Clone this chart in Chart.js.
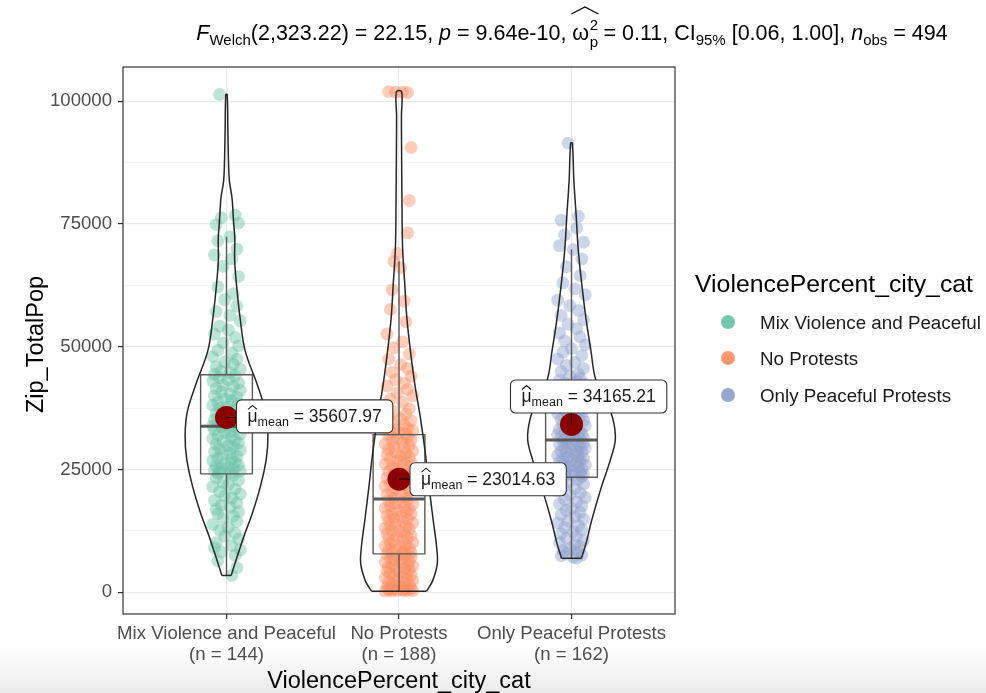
<!DOCTYPE html>
<html>
<head>
<meta charset="utf-8">
<script src="https://cdn.jsdelivr.net/npm/chart.js@4.4.1/dist/chart.umd.min.js"></script>
<style>
  html, body { margin: 0; padding: 0; background: #ffffff; }
  #wrap { position: relative; width: 986px; height: 693px; background: linear-gradient(to bottom, #ffffff 0px, #ffffff 648px, #f4f4f4 672px, #ebebeb 693px); }
  canvas { display: block; }
</style>
</head>
<body>
<div id="wrap"><canvas id="c" width="986" height="693"></canvas></div>
<script>
// ---- data -------------------------------------------------------------
const categories = ['Mix Violence and Peaceful', 'No Protests', 'Only Peaceful Protests'];
const groupCounts = [144, 188, 162];
const groupColors = ['#66C2A5', '#FC8D62', '#8DA0CB'];
const yTicks = [0, 25000, 50000, 75000, 100000];
const yMinorTicks = [12500, 37500, 62500, 87500];
const groupMeans = [35607.97, 23014.63, 34165.21];

// box statistics: [lower whisker, Q1, median, Q3, upper whisker]
const boxMix = [3400, 24100, 33800, 44300, 72400];
const boxNone = [200, 7800, 19000, 32100, 67400];
const boxPeaceful = [6900, 23400, 31000, 42000, 69800];

// violin profiles: [value, half width in category units]
const violinMix = [[3400,0.027],[6500,0.055],[11300,0.10],[16100,0.15],[21600,0.197],[27200,0.231],[32000,0.24],[36800,0.227],[42300,0.178],[49200,0.108],[56100,0.078],[63000,0.057],[67900,0.047],[72000,0.048],[75500,0.041],[80300,0.032],[83700,0.017],[87200,0.012],[94100,0.008],[101400,0.004]];
const violinNone = [[200,0.16],[2300,0.195],[5800,0.222],[9200,0.218],[14700,0.198],[21600,0.174],[28500,0.152],[35500,0.124],[42300,0.092],[49200,0.066],[56100,0.045],[63000,0.033],[70000,0.021],[80000,0.017],[90000,0.015],[97000,0.014],[102000,0.015]];
const violinPeaceful = [[6900,0.058],[10300,0.087],[14500,0.116],[21400,0.173],[26900,0.225],[31100,0.254],[35300,0.24],[39000,0.2],[43500,0.139],[49100,0.113],[56000,0.083],[62900,0.059],[69800,0.039],[76800,0.027],[83700,0.014],[91500,0.005]];

// jittered observations: [horizontal jitter, Zip_TotalPop]
const pointsMix = [
[-0.04,101400],[0.05,76800],[-0.03,76300],[0.07,75200],[-0.06,74900],[0.02,72400],[-0.05,71600],[0.06,69900],[-0.07,68700],[0.03,67900],[-0.02,66400],[0.07,64300],[-0.05,62200],[0.04,60800],[-0.01,59600],[0.06,58300],[-0.06,57200],[0.02,56400],[0.08,55300],[-0.04,54200],[0.01,53400],[-0.07,52600],[0.05,51900],[-0.02,50800],[0.07,50200],[-0.05,49300],[0.03,48700],[-0.08,48000],[0.06,47500],[-0.01,46900],[0.04,46400],[-0.06,45900],[0.08,45400],[-0.03,45000],[0.02,44700],[-0.07,44400],
[0.05,44100],[-0.04,43700],[0.01,43300],[-0.08,43000],[0.07,42600],[-0.02,42200],[0.04,41900],[-0.06,41500],[0.08,41100],[-0.03,40800],[0.02,40400],[-0.07,40000],[0.06,39700],[-0.01,39400],[0.03,39000],[-0.05,38700],[0.07,38400],[-0.08,38100],[0.01,37800],[-0.04,37500],[0.05,37200],[-0.02,36900],[0.08,36600],[-0.06,36300],[0.03,36000],[-0.03,35700],[0.06,35400],[-0.07,35100],[0.00,34900],[0.04,34700],[-0.05,34500],[0.07,34300],[-0.01,34200],[0.02,34000],[-0.08,33900],[0.05,33850],
[-0.03,33700],[0.06,33400],[-0.07,33100],[0.02,32800],[-0.01,32500],[0.08,32200],[-0.05,31900],[0.03,31600],[-0.08,31300],[0.05,31000],[-0.02,30700],[0.07,30400],[-0.06,30100],[0.01,29800],[0.04,29500],[-0.04,29200],[0.08,28900],[-0.07,28600],[0.02,28300],[-0.02,28000],[0.06,27700],[-0.05,27400],[0.03,27100],[-0.08,26800],[0.05,26500],[-0.01,26200],[0.07,25900],[-0.06,25700],[0.01,25500],[-0.03,25300],[0.04,25100],[-0.07,24900],[0.08,24700],[-0.04,24500],[0.02,24300],[-0.05,24200],
[0.04,23800],[-0.06,23300],[0.07,22800],[-0.02,22300],[0.01,21900],[-0.08,21500],[0.05,21000],[-0.04,20500],[0.08,20000],[-0.01,19600],[0.03,19200],[-0.07,18700],[0.06,18200],[-0.03,17700],[0.02,17300],[-0.06,16900],[0.07,16400],[-0.05,16000],[0.04,15500],[-0.02,15000],[0.06,14400],[-0.08,13800],[0.01,13200],[-0.04,12600],[0.05,12000],[-0.01,11400],[0.07,10800],[-0.06,10100],[0.03,9500],[-0.07,9000],[0.08,8600],[-0.03,8200],[0.05,7500],[-0.05,6400],[0.06,5000],[0.03,3400]
];
const pointsNone = [
[-0.06,102000],[-0.02,101900],[0.02,101900],[0.05,101800],[0.07,90600],[0.06,79800],[0.05,73200],[-0.01,69000],[-0.03,67400],[0.01,66100],[-0.04,61600],[0.03,59300],[-0.05,57600],[0.04,55100],[-0.07,52600],[0.02,51000],[-0.03,49800],[0.06,48500],[-0.06,47500],[0.01,46400],[0.05,45600],[-0.04,44800],[0.07,44000],[-0.02,43300],[0.03,42600],[-0.07,42000],[0.05,41300],[-0.01,40600],[0.08,40000],[-0.05,39300],[0.02,38700],[-0.08,38000],[0.06,37400],[-0.03,36800],[0.04,36300],[-0.06,35800],[0.01,35300],[0.07,34900],[-0.04,34500],[0.03,34100],[-0.07,33700],[0.05,33400],[-0.02,33100],[0.08,32900],[-0.05,32700],[0.00,32500],[0.04,32300],
[-0.06,31900],[0.05,31600],[-0.01,31300],[0.07,31000],[-0.04,30800],[0.02,30500],[-0.08,30200],[0.06,29900],[-0.03,29600],[0.03,29400],[-0.06,29100],[0.08,28800],[-0.02,28500],[0.04,28300],[-0.07,28000],[0.01,27700],[0.06,27500],[-0.05,27200],[0.03,26900],[-0.01,26700],[0.07,26400],[-0.08,26100],[0.02,25900],[-0.04,25600],[0.05,25400],[-0.02,25100],[0.08,24800],[-0.06,24600],[0.01,24300],[0.04,24100],[-0.03,23800],[0.06,23500],[-0.07,23300],[0.02,23000],[-0.01,22700],[0.07,22400],[-0.05,22100],[0.03,21900],[-0.08,21600],[0.05,21300],[-0.02,21000],[0.06,20700],[-0.04,20400],[0.01,20100],[-0.07,19800],[0.04,19500],[-0.03,19200],
[0.05,18900],[-0.06,18600],[0.02,18400],[-0.02,18100],[0.08,17900],[-0.05,17600],[0.03,17400],[-0.08,17100],[0.06,16900],[-0.01,16600],[0.04,16400],[-0.04,16100],[0.07,15900],[-0.07,15600],[0.01,15400],[-0.03,15100],[0.05,14900],[-0.06,14600],[0.02,14400],[0.08,14100],[-0.02,13900],[-0.05,13600],[0.04,13400],[-0.08,13100],[0.06,12900],[0.00,12600],[-0.04,12400],[0.03,12100],[-0.07,11900],[0.07,11600],[-0.01,11400],[0.05,11100],[-0.06,10900],[0.02,10600],[-0.03,10400],[0.08,10100],[-0.05,9900],[0.04,9600],[-0.08,9400],[0.01,9200],[0.06,8900],[-0.02,8700],[-0.06,8500],[0.03,8300],[0.07,8100],[-0.04,8000],[0.02,7900],
[-0.07,7700],[0.04,7500],[-0.01,7300],[0.07,7100],[-0.05,6900],[0.02,6700],[-0.03,6500],[0.06,6300],[-0.08,6100],[0.01,5900],[0.05,5700],[-0.04,5500],[0.08,5300],[-0.06,5100],[0.03,4900],[-0.02,4700],[0.06,4500],[-0.07,4300],[0.00,4100],[0.04,3900],[-0.05,3700],[0.07,3500],[-0.03,3300],[0.02,3100],[-0.08,2900],[0.05,2700],[-0.01,2500],[0.08,2300],[-0.06,2100],[0.03,1900],[-0.04,1700],[0.06,1500],[-0.02,1300],[0.01,1200],[-0.07,1000],[0.04,900],[-0.05,800],[0.07,700],[-0.03,600],[0.02,500],[-0.06,450],[0.05,400],[-0.01,350],[0.08,300],[-0.04,250],[0.03,220],[-0.08,200]
];
const pointsPeaceful = [
[-0.02,91500],[0.04,76600],[-0.06,75800],[0.03,74200],[-0.04,72800],[0.07,71300],[-0.07,70600],[0.01,69800],[0.06,67900],[-0.03,66300],[0.05,64500],[-0.05,63000],[0.02,61800],[0.08,60600],[-0.08,59500],[-0.01,58400],[0.04,57400],[-0.06,56400],[0.07,55500],[-0.02,54600],[0.03,53700],[-0.07,52800],[0.05,52000],[-0.04,51200],[0.08,50400],[0.00,49600],[-0.05,48900],[0.06,48200],[-0.08,47500],[0.02,46800],[-0.03,46200],[0.07,45600],[-0.06,45000],[0.04,44500],[-0.01,44000],[0.05,43600],[-0.07,43200],[0.03,42900],[-0.04,42600],[0.08,42400],[-0.02,42200],
[0.06,41800],[-0.05,41400],[0.01,41000],[-0.08,40600],[0.04,40200],[-0.02,39900],[0.07,39500],[-0.06,39200],[0.03,38800],[-0.03,38500],[0.08,38200],[-0.07,37900],[0.00,37600],[0.05,37300],[-0.04,37000],[0.02,36700],[-0.08,36400],[0.06,36100],[-0.01,35800],[0.04,35500],[-0.06,35200],[0.07,35000],[-0.03,34700],[0.02,34400],[-0.05,34200],[0.08,33900],[-0.02,33700],[0.03,33400],[-0.07,33200],[0.05,32900],[-0.04,32700],[0.01,32500],[0.06,32300],[-0.08,32100],[-0.01,31900],[0.04,31700],[-0.06,31600],[0.07,31400],[-0.03,31200],[0.02,31100],
[-0.05,30900],[0.03,30700],[-0.02,30500],[0.07,30300],[-0.07,30100],[0.01,29900],[0.05,29700],[-0.04,29500],[0.08,29300],[-0.01,29100],[0.03,28900],[-0.06,28700],[0.06,28500],[-0.03,28300],[0.02,28100],[-0.08,27900],[0.04,27700],[-0.02,27500],[0.07,27300],[-0.05,27100],[0.00,26900],[0.05,26700],[-0.07,26500],[0.03,26300],[-0.04,26100],[0.08,25900],[-0.01,25700],[0.04,25500],[-0.06,25300],[0.06,25100],[-0.03,24900],[0.01,24700],[-0.08,24500],[0.05,24300],[-0.02,24100],[0.07,24000],[-0.05,23800],[0.02,23700],[-0.04,23600],[0.06,23500],
[-0.06,23300],[0.04,22900],[-0.02,22400],[0.07,22000],[-0.05,21500],[0.02,21100],[-0.08,20600],[0.05,20200],[-0.01,19800],[0.08,19300],[-0.04,18900],[0.03,18400],[-0.07,18000],[0.06,17600],[0.00,17100],[-0.03,16700],[0.05,16200],[-0.06,15800],[0.02,15400],[0.07,14900],[-0.02,14500],[-0.08,14100],[0.04,13600],[-0.04,13200],[0.06,12700],[0.01,12300],[-0.06,11900],[0.03,11400],[-0.03,11000],[0.07,10500],[-0.07,10100],[0.02,9700],[0.05,9300],[-0.01,8900],[-0.05,8500],[0.04,8200],[-0.03,7900],[0.06,7600],[-0.06,7400],[0.01,7100],[0.03,6900]
];

// ---- styling ------------------------------------------------------------
const FONT = "'Liberation Sans', Arial, Helvetica, sans-serif";
const AXIS_TEXT = '#4d4d4d';
const OUTLINE = '#262626';
const BOX_LINE = '#595959';
const MEAN_COLOR = '#8B0000';
const BOX_HALF = 0.15;

function rgba(hex, a) {
  const n = parseInt(hex.slice(1), 16);
  return `rgba(${(n >> 16) & 255},${(n >> 8) & 255},${n & 255},${a})`;
}

const boxes = [boxMix, boxNone, boxPeaceful];
const violins = [violinMix, violinNone, violinPeaceful];
const pointSets = [pointsMix, pointsNone, pointsPeaceful];

const datasets = [];

// jittered raw points (bottom layer)
pointSets.forEach((pts, i) => {
  datasets.push({
    type: 'scatter',
    data: pts.map(([dx, y]) => ({ x: i + 1 + dx, y })),
    backgroundColor: rgba(groupColors[i], 0.44),
    borderWidth: 0,
    pointRadius: 6.4,
    pointHoverRadius: 6.4,
    order: 4
  });
});

// box plots
boxes.forEach(([lo, q1, med, q3, hi], i) => {
  const c = i + 1;
  const line = { type: 'scatter', showLine: true, pointRadius: 0, fill: false, tension: 0, borderColor: BOX_LINE, borderWidth: 1.4, order: 3 };
  datasets.push(Object.assign({}, line, {
    data: [{ x: c, y: q3 }, { x: c, y: hi }, { x: c, y: null }, { x: c, y: q1 }, { x: c, y: lo }]
  }));
  datasets.push(Object.assign({}, line, {
    data: [{ x: c - BOX_HALF, y: q1 }, { x: c + BOX_HALF, y: q1 }, { x: c + BOX_HALF, y: q3 }, { x: c - BOX_HALF, y: q3 }, { x: c - BOX_HALF, y: q1 }]
  }));
  datasets.push(Object.assign({}, line, {
    borderWidth: 3,
    data: [{ x: c - BOX_HALF, y: med }, { x: c + BOX_HALF, y: med }]
  }));
});

// violin outlines
violins.forEach((profile, i) => {
  const c = i + 1;
  const left = profile.map(([v, w]) => ({ x: c - w, y: v }));
  const right = profile.slice().reverse().map(([v, w]) => ({ x: c + w, y: v }));
  datasets.push({
    type: 'scatter', showLine: true, pointRadius: 0, fill: false,
    tension: 0.35, borderColor: OUTLINE, borderWidth: 1.5, order: 2,
    data: left.concat(right)
  });
  const [v0, w0] = profile[0];
  datasets.push({
    type: 'scatter', showLine: true, pointRadius: 0, fill: false,
    tension: 0, borderColor: OUTLINE, borderWidth: 1.5, order: 2,
    data: [{ x: c - w0, y: v0 }, { x: c + w0, y: v0 }]
  });
});

// group means (top layer)
datasets.push({
  type: 'scatter',
  data: groupMeans.map((m, i) => ({ x: i + 1, y: m })),
  backgroundColor: MEAN_COLOR,
  borderWidth: 0,
  pointRadius: 11.5,
  pointHoverRadius: 11.5,
  order: 0
});

// ---- label placement for the mean annotations (pixel offsets) -----------
const meanLabelPlacement = [
  { left: 10, cy: -1 },
  { left: 11, cy: 0 },
  { left: -61, cy: -28 }
];

function roundRect(ctx, x, y, w, h, r) {
  ctx.beginPath();
  ctx.moveTo(x + r, y);
  ctx.lineTo(x + w - r, y);
  ctx.arcTo(x + w, y, x + w, y + r, r);
  ctx.lineTo(x + w, y + h - r);
  ctx.arcTo(x + w, y + h, x + w - r, y + h, r);
  ctx.lineTo(x + r, y + h);
  ctx.arcTo(x, y + h, x, y + h - r, r);
  ctx.lineTo(x, y + r);
  ctx.arcTo(x, y, x + r, y, r);
  ctx.closePath();
}

const decorations = {
  id: 'decorations',
  afterDraw(chart) {
    const ctx = chart.ctx;
    const area = chart.chartArea;
    const xs = chart.scales.x, ys = chart.scales.y;
    ctx.save();

    // panel border
    ctx.strokeStyle = '#333333';
    ctx.lineWidth = 1.2;
    ctx.strokeRect(area.left, area.top, area.right - area.left, area.bottom - area.top);

    // mean labels
    groupMeans.forEach((m, i) => {
      const px = xs.getPixelForValue(i + 1);
      const py = ys.getPixelForValue(m);
      const pl = meanLabelPlacement[i];
      const fs = 17.5, fsSub = 12.5;
      ctx.font = `${fs}px ${FONT}`;
      const muW = ctx.measureText('\u03BC').width;
      const rest = ' = ' + m.toFixed(2);
      const restW = ctx.measureText(rest).width;
      ctx.font = `${fsSub}px ${FONT}`;
      const subW = ctx.measureText('mean').width;
      const padX = 11;
      const w = padX * 2 + muW + subW + restW;
      const h = 33;
      const bx = px + pl.left, by = py + pl.cy - h / 2;

      // leader
      ctx.strokeStyle = '#000';
      ctx.lineWidth = 1;
      ctx.beginPath();
      ctx.moveTo(px, py);
      if (Math.abs(pl.cy) < 5) ctx.lineTo(bx, py);
      else ctx.lineTo(px, by + h);
      ctx.stroke();

      roundRect(ctx, bx, by, w, h, 5);
      ctx.fillStyle = '#ffffff';
      ctx.fill();
      ctx.strokeStyle = '#333333';
      ctx.lineWidth = 1.1;
      ctx.stroke();

      const base = by + h / 2 + 6;
      let tx = bx + padX;
      ctx.fillStyle = '#1a1a1a';
      ctx.textBaseline = 'alphabetic';
      ctx.textAlign = 'left';
      ctx.font = `${fs}px ${FONT}`;
      ctx.fillText('\u03BC', tx, base);
      // hat over mu
      ctx.strokeStyle = '#1a1a1a';
      ctx.lineWidth = 1.1;
      ctx.beginPath();
      ctx.moveTo(tx + 0.5, base - 13);
      ctx.lineTo(tx + muW / 2, base - 17);
      ctx.lineTo(tx + muW - 0.5, base - 13);
      ctx.stroke();
      tx += muW;
      ctx.font = `${fsSub}px ${FONT}`;
      ctx.fillText('mean', tx, base + 4);
      tx += subW;
      ctx.font = `${fs}px ${FONT}`;
      ctx.fillText(rest, tx, base);
    });

    // statistical subtitle
    const S = 21.5, Ssub = 15;
    const runs = [
      { t: 'F', it: true }, { t: 'Welch', sub: true }, { t: '(2,323.22) = 22.15, ' },
      { t: 'p', it: true }, { t: ' = 9.64e-10, ' }, { omega: true },
      { t: ' = 0.11, CI' }, { t: '95%', sub: true }, { t: ' [0.06, 1.00], ' },
      { t: 'n', it: true }, { t: 'obs', sub: true }, { t: ' = 494' }
    ];
    const fontFor = r => `${r.it ? 'italic ' : ''}${r.sub ? Ssub : S}px ${FONT}`;
    let total = 0;
    runs.forEach(r => {
      if (r.omega) {
        ctx.font = `${S}px ${FONT}`;
        const ow = ctx.measureText('\u03C9').width;
        ctx.font = `${Ssub}px ${FONT}`;
        r.w = ow + Math.max(ctx.measureText('2').width, ctx.measureText('p').width);
        r.ow = ow;
      } else {
        ctx.font = fontFor(r);
        r.w = ctx.measureText(r.t).width;
      }
      total += r.w;
    });
    let x = 572 - total / 2;
    const baseY = 40;
    ctx.fillStyle = '#000';
    runs.forEach(r => {
      if (r.omega) {
        ctx.font = `${S}px ${FONT}`;
        ctx.fillText('\u03C9', x, baseY);
        ctx.font = `${Ssub}px ${FONT}`;
        ctx.fillText('2', x + r.ow + 0.5, baseY - 10);
        ctx.fillText('p', x + r.ow + 0.5, baseY + 7);
        ctx.strokeStyle = '#000';
        ctx.lineWidth = 1.2;
        ctx.beginPath();
        ctx.moveTo(x - 1, baseY - 26);
        ctx.lineTo(x + r.w / 2, baseY - 33);
        ctx.lineTo(x + r.w + 1, baseY - 26);
        ctx.stroke();
      } else {
        ctx.font = fontFor(r);
        ctx.fillText(r.t, x, r.sub ? baseY + 5 : baseY);
      }
      x += r.w;
    });

    // axis titles
    ctx.fillStyle = '#000';
    ctx.font = `23.5px ${FONT}`;
    ctx.textAlign = 'center';
    ctx.fillText('ViolencePercent_city_cat', (area.left + area.right) / 2, 688);
    ctx.save();
    ctx.translate(43, (area.top + area.bottom) / 2 + 4);
    ctx.rotate(-Math.PI / 2);
    ctx.fillText('Zip_TotalPop', 0, 0);
    ctx.restore();

    // legend
    ctx.textAlign = 'left';
    ctx.font = `24.8px ${FONT}`;
    ctx.fillText('ViolencePercent_city_cat', 695, 292);
    ctx.font = `18.8px ${FONT}`;
    const legendY = [322, 358, 395];
    categories.forEach((cat, i) => {
      ctx.beginPath();
      ctx.arc(728, legendY[i], 7, 0, Math.PI * 2);
      ctx.fillStyle = rgba(groupColors[i], 0.9);
      ctx.fill();
      ctx.fillStyle = '#1a1a1a';
      ctx.fillText(cat, 760, legendY[i] + 7);
    });
    ctx.restore();
  }
};

const allYTicks = yTicks.concat(yMinorTicks).sort((a, b) => a - b);

new Chart(document.getElementById('c'), {
  type: 'scatter',
  data: { datasets },
  options: {
    responsive: false,
    animation: false,
    events: [],
    layout: { padding: { left: 0, right: 311, top: 67, bottom: 0 } },
    plugins: { legend: { display: false }, tooltip: { enabled: false } },
    scales: {
      x: {
        type: 'linear',
        min: 0.4,
        max: 3.6,
        afterBuildTicks: s => { s.ticks = [1, 2, 3].map(v => ({ value: v })); },
        afterFit: s => { s.height = 79; },
        ticks: {
          autoSkip: false,
          maxRotation: 0,
          padding: 4,
          color: AXIS_TEXT,
          font: { family: FONT, size: 18.6, lineHeight: 1.15 },
          callback: v => [categories[v - 1], `(n = ${groupCounts[v - 1]})`]
        },
        grid: { color: '#ebebeb', lineWidth: 1.2, tickColor: '#333333', tickLength: 5 },
        border: { display: false }
      },
      y: {
        type: 'linear',
        min: -4450,
        max: 107000,
        afterBuildTicks: s => { s.ticks = allYTicks.map(v => ({ value: v })); },
        afterFit: s => { s.width = 123; },
        ticks: {
          autoSkip: false,
          padding: 6,
          color: AXIS_TEXT,
          font: { family: FONT, size: 18.6 },
          callback: v => yTicks.includes(v) ? String(v) : ''
        },
        grid: {
          color: c => yTicks.includes(c.tick && c.tick.value) ? '#ebebeb' : '#f4f4f4',
          lineWidth: c => yTicks.includes(c.tick && c.tick.value) ? 1.2 : 0.8,
          tickColor: c => yTicks.includes(c.tick && c.tick.value) ? '#333333' : 'rgba(0,0,0,0)',
          tickLength: 5
        },
        border: { display: false }
      }
    }
  },
  plugins: [decorations]
});
</script>
</body>
</html>
